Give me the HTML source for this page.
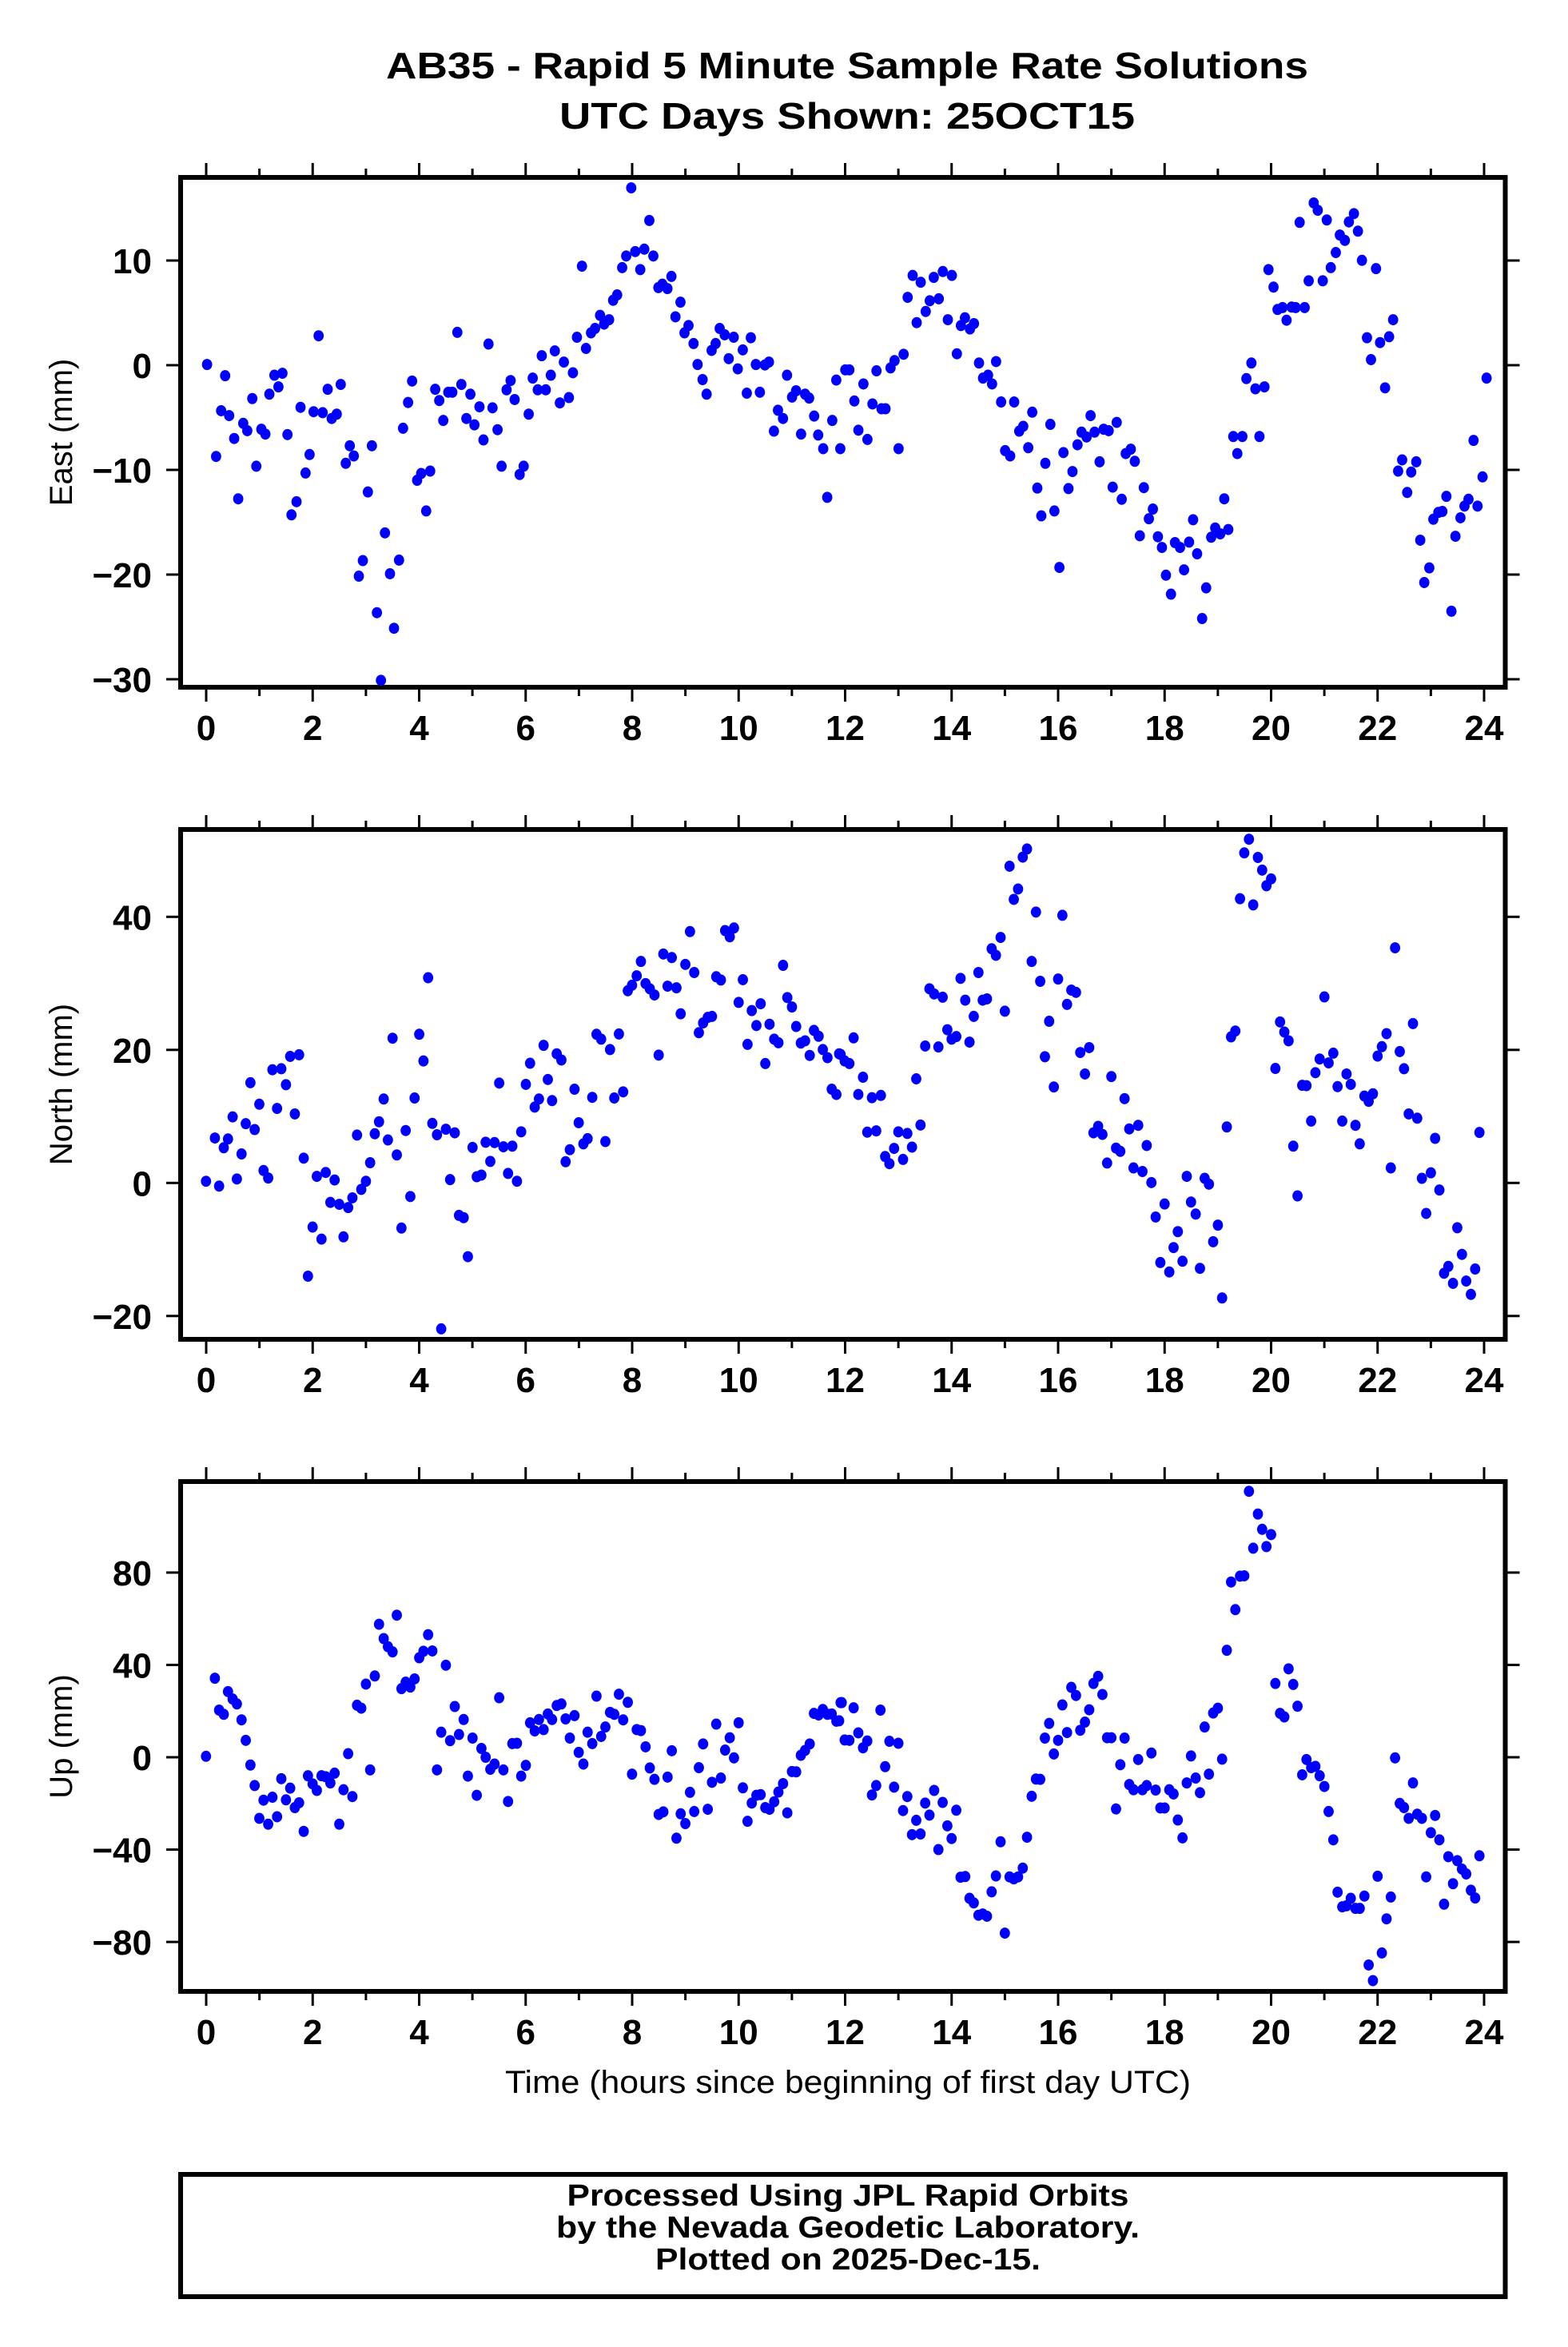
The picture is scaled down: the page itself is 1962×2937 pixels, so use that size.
<!DOCTYPE html>
<html><head><meta charset="utf-8"><style>
html,body{margin:0;padding:0;background:#fff;}
svg{display:block;}
text{font-family:"Liberation Sans",Arial,sans-serif;fill:#000;}
</style></head><body>
<svg id="s" width="1962" height="2937" viewBox="0 0 1962 2937" xmlns="http://www.w3.org/2000/svg">
<rect width="1962" height="2937" fill="#fff"/>
<text x="1060" y="98" font-size="46" font-weight="bold" text-anchor="middle" textLength="1154" lengthAdjust="spacingAndGlyphs">AB35 - Rapid 5 Minute Sample Rate Solutions</text>
<text x="1060" y="161" font-size="46" font-weight="bold" text-anchor="middle" textLength="720" lengthAdjust="spacingAndGlyphs">UTC Days Shown:  25OCT15</text>
<text x="1061" y="2619" font-size="40" text-anchor="middle" textLength="858" lengthAdjust="spacingAndGlyphs">Time (hours since beginning of first day UTC)</text>
<rect x="226" y="2721" width="1657.5" height="153" fill="none" stroke="#000" stroke-width="6"/>
<text x="1061" y="2760" font-size="38" font-weight="bold" text-anchor="middle" textLength="703" lengthAdjust="spacingAndGlyphs">Processed Using JPL Rapid Orbits</text>
<text x="1061" y="2800" font-size="38" font-weight="bold" text-anchor="middle" textLength="730" lengthAdjust="spacingAndGlyphs">by the Nevada Geodetic Laboratory.</text>
<text x="1061" y="2840" font-size="38" font-weight="bold" text-anchor="middle" textLength="482" lengthAdjust="spacingAndGlyphs">Plotted on 2025-Dec-15.</text>
<g id="g"></g>
</svg>
<script>
var NS="http://www.w3.org/2000/svg",G=document.getElementById("g");
function el(t,a,txt){var e=document.createElementNS(NS,t);for(var k in a)e.setAttribute(k,a[k]);if(txt!==undefined)e.textContent=txt;G.appendChild(e);return e;}
var L=226,R=1883.5,x0=258,ppH=(1857-258)/24;
function panel(top,bot,zero,ppm,ticks,label){
  el("rect",{x:L,y:top,width:R-L,height:bot-top,fill:"none",stroke:"#000","stroke-width":6});
  for(var h=0;h<=24;h++){var x=x0+h*ppH,maj=h%2==0,len=maj?15:8;
    el("line",{x1:x,y1:top-3,x2:x,y2:top-3-len,stroke:"#000","stroke-width":3});
    el("line",{x1:x,y1:bot+3,x2:x,y2:bot+3+len,stroke:"#000","stroke-width":3});
    if(maj)el("text",{x:x,y:bot+66,"font-size":44,"font-weight":"bold","text-anchor":"middle"},""+h);}
  ticks.forEach(function(v){var y=zero-v*ppm;
    el("line",{x1:L-3,y1:y,x2:L-18,y2:y,stroke:"#000","stroke-width":3});
    el("line",{x1:R+3,y1:y,x2:R+18,y2:y,stroke:"#000","stroke-width":3});
    el("text",{x:190,y:y+16,"font-size":44,"font-weight":"bold","text-anchor":"end"},(v<0?"\u2212"+(-v):""+v));});
  var cy=(top+bot)/2;
  el("text",{x:90,y:cy,"font-size":40,"text-anchor":"middle",transform:"rotate(-90 90 "+cy+")"},label);
}
panel(222,860,457,13.1,[10,0,-10,-20,-30],"East (mm)");
panel(1038,1676,1480.3,8.325,[40,20,0,-20],"North (mm)");
panel(1854,2492,2199,2.889,[80,40,0,-40,-80],"Up (mm)");
function dots(arr,fx,fy){for(var i=0;i<arr.length;i+=2){el("ellipse",{cx:fx(arr[i]),cy:fy(arr[i+1]),rx:6.4,ry:7.0,fill:"#0000ff"});}}
var E=[206,749,215,938,220,844,224,772,228,854,233,901,237,1025,242,870,246,885,251,819,255,958,260,882,264,892,268,810,273,771,277,795,281,767,286,893,290,1058,295,1031,299,837,304,972,308,934,312,846,317,690,321,848,326,800,330,860,335,851,339,790,344,952,348,916,352,937,357,1184,361,1152,366,1011,370,916,375,1259,379,1398,383,1095,388,1179,392,1291,397,1151,401,880,406,827,410,783,415,987,419,973,424,1050,428,968,433,800,437,823,441,864,446,806,450,806,455,683,459,790,464,860,468,810,472,873,477,836,481,904,486,707,490,838,495,883,499,958,504,801,508,782,512,821,517,975,521,958,526,851,530,777,535,801,539,731,543,801,548,771,552,721,557,828,561,744,566,817,570,766,574,693,579,547,583,716,588,684,592,675,597,648,601,666,606,657,610,617,614,606,619,550,623,526,628,386,632,517,637,554,641,512,646,453,650,526,655,591,659,584,664,593,668,568,672,651,677,621,681,684,685,669,690,706,694,749,699,780,703,810,708,720,712,706,716,675,721,688,725,737,730,693,734,758,739,719,743,808,747,694,752,749,756,806,761,750,765,744,770,886,774,843,779,860,783,771,788,816,792,803,797,892,801,810,805,818,810,855,814,894,819,922,823,1022,828,864,832,781,836,922,841,760,845,760,850,824,854,884,859,789,863,903,868,830,872,762,877,840,881,840,886,756,890,741,894,922,899,728,903,611,908,566,912,663,916,580,921,640,925,618,929,570,934,614,938,558,943,657,947,566,952,727,956,669,960,653,965,676,969,665,974,746,978,777,983,771,987,789,991,743,996,826,1000,926,1005,937,1009,826,1014,886,1018,876,1023,920,1027,847,1032,1003,1036,1060,1040,952,1045,872,1049,1050,1054,1166,1058,930,1063,1004,1067,969,1072,914,1076,888,1081,898,1085,854,1089,888,1094,949,1098,882,1103,885,1107,1001,1111,868,1116,1026,1120,932,1125,923,1129,948,1134,1101,1138,1002,1143,1066,1147,1046,1152,1103,1156,1125,1160,1182,1165,1221,1169,1115,1174,1125,1178,1171,1183,1114,1187,1068,1191,1138,1196,1271,1200,1208,1205,1104,1209,1085,1214,1097,1218,1025,1222,1088,1227,897,1231,932,1236,897,1240,778,1245,746,1249,799,1253,897,1258,795,1262,554,1267,590,1271,636,1276,632,1280,658,1285,631,1289,632,1293,457,1298,632,1302,577,1307,417,1311,432,1316,577,1320,452,1324,550,1329,519,1333,483,1338,494,1342,456,1347,439,1351,475,1355,535,1360,694,1364,739,1369,552,1373,704,1378,797,1382,692,1386,657,1391,968,1395,945,1400,1012,1404,970,1409,949,1413,1110,1417,1197,1422,1167,1426,1067,1431,1053,1435,1051,1439,1020,1444,1256,1448,1102,1453,1064,1457,1040,1461,1026,1466,905,1470,1040,1475,980,1479,777];
dots(E,function(x){return x/0.7951;},function(y){return y/1.6421;});
var N1=[60,1082,81,949,91,1097,102,979,112,952,123,884,133,1075,144,998,154,905,165,779,175,923,186,845,196,1049,207,1072,217,739,228,858,238,736,249,785,259,698,270,875,280,693,291,1011,301,1374,312,1223,322,1067,333,1260,343,1055,354,1147,364,1078,375,1153,385,1253,396,1163,406,1133,417,940,427,1107,438,1082,448,1025,459,936,469,899,480,829,490,955,501,642,511,1001,522,1226,532,926,543,1129,553,826,564,630,574,712,585,456,595,904,606,939,616,1536,627,922,637,1077,648,933,658,1187,669,1194,679,1314,690,978,700,1068,711,1063,721,962,732,1021,742,963,753,780,763,976,774,1058,784,974,795,1082,805,930,816,784,826,719,837,854,847,829,858,664,868,769,878,834,889,690,900,709,910,1022,920,985,931,799,941,902,952,967,962,951,973,824,983,630,994,645,1004,960,1015,677,1025,826,1036,629,1046,807,1057,496,1067,479,1078,450,1088,406,1099,474,1109,490,1120,509,1130,694,1141,383,1151,482,1161,394,1172,487,1182,567,1193,415,1204,314,1214,440,1225,625,1235,595,1246,578,1256,575,1266,453,1277,463,1287,311,1298,330,1308,303,1319,532,1329,462,1340,661,1350,557,1361,603,1371,536,1382,720,1392,599,1403,645,1413,656,1424,418,1434,517,1445,546,1455,606,1466,657,1476,650,1487,695,1497,618,1508,636,1518,677,1529,702,1539,799,1550,815,1560,692];
dots(N1,function(x){return 226+x/1.889;},function(y){return 1038+y/2.458;});
var N2=[0,690,13,712,24,720,34,641,45,815,56,762,66,931,77,825,87,927,98,818,108,1006,118,1028,129,981,139,930,150,1015,160,935,171,977,181,767,191,909,202,666,212,490,223,506,233,669,243,516,254,616,264,645,275,637,285,458,296,525,306,654,316,575,327,440,337,525,347,521,358,367,368,387,379,332,389,559,400,113,410,215,420,183,431,85,441,60,452,406,462,254,472,467,483,699,493,590,504,792,514,460,524,264,535,538,545,494,556,501,566,686,577,752,587,671,597,933,608,913,618,938,629,1026,639,760,650,980,660,990,670,828,681,921,691,1041,702,910,712,1052,722,972,733,1086,743,1192,754,1332,764,1152,775,1361,785,1286,795,1237,806,1328,816,1067,826,1146,837,1183,847,1350,858,1073,868,1091,878,1268,889,1217,899,1441,910,915,920,638,930,620,941,213,951,72,962,30,972,232,983,86,993,125,1003,173,1014,152,1024,735,1035,592,1045,623,1055,650,1066,974,1076,1127,1087,787,1097,788,1108,897,1118,748,1128,706,1139,515,1149,718,1160,688,1170,791,1181,897,1191,752,1201,784,1212,910,1222,967,1233,820,1243,836,1253,813,1264,697,1274,668,1285,628,1295,1041,1305,364,1316,683,1326,736,1337,875,1347,597,1357,888,1368,1073,1378,1181,1389,1056,1399,950,1409,1109,1420,1365,1430,1344,1441,1396,1451,1225,1462,1307,1472,1389,1483,1430,1493,1352,1503,932];
dots(N2,function(x){return 1050+x/1.876;},function(y){return 1038+y/2.458;});
var U1=[60,845,81,605,91,703,102,716,112,646,123,669,133,684,144,733,154,796,165,872,175,935,186,1036,196,980,207,1054,217,971,228,1031,238,914,249,979,259,943,270,1003,280,988,291,1076,301,905,312,930,322,950,333,905,343,908,354,927,364,897,375,1054,385,948,396,837,406,969,417,688,427,697,438,623,448,887,459,598,469,439,480,483,490,508,501,524,511,411,522,637,532,617,543,632,553,607,564,542,574,522,585,471,595,521,606,887,616,771,627,565,637,797,648,692,658,778,669,732,679,906,690,789,700,965,711,821,721,848,732,885,742,869,753,665,763,887,774,984,784,806,795,805,805,906,816,873,826,742,837,767,847,732,858,763,868,715,878,732,889,689,900,684,910,730,920,789,931,720,941,833,952,869,962,771,973,806,983,660,994,784,1004,755,1015,710,1025,716,1036,654,1046,733,1057,679,1067,900,1078,763,1088,766,1099,816,1109,881,1120,916,1130,1024,1141,1016,1151,909,1161,828,1172,1097,1182,1022,1193,1052,1204,956,1214,1015,1225,880,1235,807,1246,1008,1256,925,1266,746,1277,912,1287,826,1298,788,1308,850,1319,742,1329,942,1340,1045,1350,989,1361,965,1371,963,1382,1003,1392,1008,1403,985,1413,955,1424,929,1434,1019,1445,892,1455,893,1466,842,1476,827,1487,807,1497,713,1508,718,1518,701,1529,716,1539,715,1550,737,1560,680];
dots(U1,function(x){return 226+x/1.889;},function(y){return 1854+y/2.458;});
var U2=[0,736,6,680,13,795,24,796,34,696,45,773,56,819,66,798,77,964,87,935,97,703,108,877,118,799,129,940,139,805,150,1012,160,969,171,1086,181,1042,191,1084,202,989,212,1026,223,950,233,1132,243,987,254,1059,264,1098,275,1011,285,1217,296,1215,306,1282,316,1296,327,1334,337,1330,347,1337,358,1262,368,1213,379,1108,389,1389,400,1216,410,1222,420,1216,431,1189,441,1094,452,968,462,915,472,916,483,789,493,744,504,838,514,796,524,687,535,772,545,633,556,658,566,765,577,740,587,702,597,621,608,599,618,655,629,788,639,788,650,1007,660,871,670,789,681,932,691,948,702,855,712,948,722,935,733,835,743,949,754,1004,764,1004,775,948,785,961,795,1041,806,1096,816,927,826,844,837,912,847,957,858,755,868,900,878,712,889,697,899,854,910,519,920,309,930,394,941,291,951,290,962,30,972,205,983,100,993,147,1003,200,1014,163,1024,621,1035,713,1045,724,1055,576,1066,624,1076,691,1087,902,1097,855,1108,880,1118,876,1128,905,1139,938,1149,1015,1160,1102,1170,1263,1181,1308,1191,1305,1201,1282,1212,1313,1222,1313,1233,1275,1243,1487,1253,1535,1264,1214,1274,1450,1285,1345,1295,1278,1305,850,1316,990,1326,1003,1337,1036,1347,927,1357,1023,1368,1036,1378,1216,1389,1080,1399,1027,1409,1102,1420,1300,1430,1154,1441,1237,1451,1166,1462,1192,1472,1207,1483,1257,1493,1281,1503,1151];
dots(U2,function(x){return 1050+x/1.876;},function(y){return 1854+y/2.458;});
</script>
</body></html>
